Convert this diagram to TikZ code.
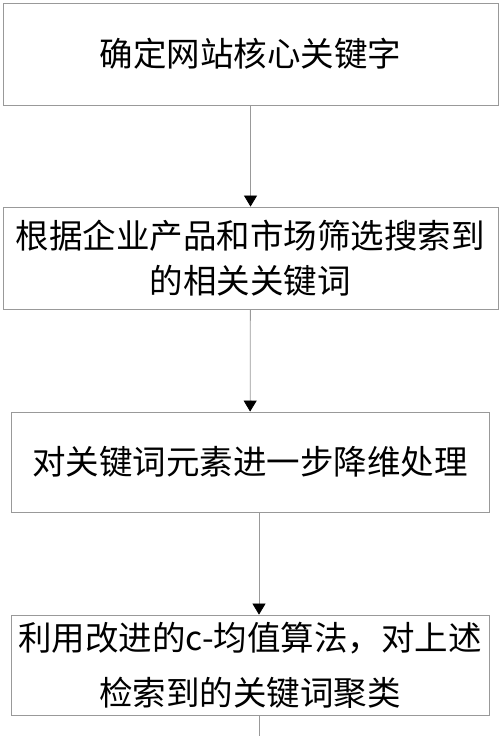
\documentclass[tikz,border=0pt]{standalone}
\usepackage{fontspec}
\usepackage{tikz}
\usetikzlibrary{arrows.meta,positioning}
\newfontfamily\cjk{Noto Sans CJK SC}

\begin{document}
\begin{tikzpicture}[
    x=1pt, y=1pt,
    stepbox/.style={rectangle, draw=gray!80, line width=0.8pt, align=center, inner sep=0pt, font=\cjk\fontsize{33.5}{45}\selectfont},
    wide/.style={minimum width=495pt, minimum height=102pt},
    narrow/.style={minimum width=478pt, minimum height=100pt},
    flow/.style={draw=gray!80, line width=0.8pt, -{Triangle[length=11pt, width=13pt, color=black]}},
]
    \useasboundingbox (0,0) rectangle (500,736);

    % Steps
    \node[stepbox, wide] (core) at (250.5, 682) {确定网站核心关键字};
    \node[stepbox, wide] (filter) at (250.5, 478) {根据企业产品和市场筛选搜索到\\的相关关键词};
    \node[stepbox, narrow] (reduce) at (250, 274) {对关键词元素进一步降维处理};
    \node[stepbox, narrow, font=\cjk\fontsize{33.5}{55}\selectfont] (cluster) at (250, 71) {利用改进的c-均值算法，对上述\\检索到的关键词聚类};
    \coordinate (tail) at (259, 0);

    \draw[flow] (core) -- (filter);
    \draw[flow] (filter) -- (reduce);
    \draw[flow] ([xshift=9pt]reduce.south) -- ([xshift=9pt]cluster.north);
    \draw[draw=gray!80, line width=0.8pt] (cluster.south -| tail) -- (tail);

\end{tikzpicture}
\end{document}
